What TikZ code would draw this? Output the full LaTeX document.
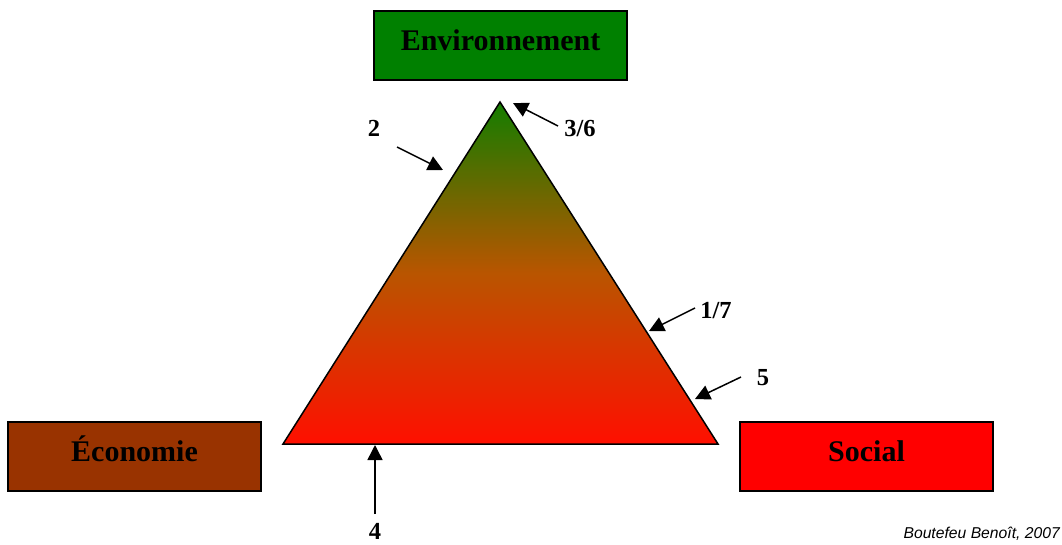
\documentclass[tikz,border=0pt]{standalone}
\usepackage{fontspec}
\setmainfont{Liberation Serif}
\newfontfamily\creditfont{Liberation Sans}
\usetikzlibrary{arrows.meta}
\definecolor{envgreen}{RGB}{0,128,0}
\definecolor{ecobrown}{RGB}{153,51,0}
\definecolor{socred}{RGB}{255,0,0}
\definecolor{tritop}{RGB}{20,125,0}
\definecolor{trimid}{RGB}{185,85,0}
\definecolor{tribot}{RGB}{255,15,0}
\tikzset{
  pillar/.style={draw=black, line width=1.5pt, minimum width=253pt, minimum height=69pt,
    inner sep=0pt, text height=20pt, text depth=10pt,
    font=\fontsize{30}{36}\selectfont\bfseries},
  num/.style={font=\fontsize{24.5}{28}\selectfont\bfseries, inner sep=0pt},
  pointer/.style={line width=1.5pt, -{Triangle[length=15pt,width=15pt]}},
}
\begin{document}
\begin{tikzpicture}[x=1pt,y=-1pt]
\useasboundingbox (0,0) rectangle (1062,544);
% pillars
\node[pillar, fill=envgreen] (env) at (500.5,45.5) {Environnement};
\node[pillar, fill=ecobrown] (eco) at (134.5,456.5) {Économie};
\node[pillar, fill=socred] (soc) at (866.5,456.5) {Social};
% triangle
\coordinate (apex) at (500,102);
\coordinate (bl) at (283,444);
\coordinate (br) at (718,444);
\draw[line width=1.5pt, top color=tritop, bottom color=tribot, middle color=trimid]
  (apex) -- (br) -- (bl) -- cycle;
% labels
\node[num] (l2) at (374,128) {2};
\node[num] (l36) at (580,129) {3/6};
\node[num] (l17) at (716,311) {1/7};
\node[num] (l5) at (763,378) {5};
\node[num] (l4) at (375,531) {4};
% arrow tails and tips
\coordinate (t2) at (397,147);   \coordinate (h2) at (443,170);
\coordinate (t36) at (558,126);  \coordinate (h36) at (513,103);
\coordinate (t17) at (695,308);  \coordinate (h17) at (649,331);
\coordinate (t5) at (741,377);   \coordinate (h5) at (695,399);
\coordinate (t4) at (375,514);   \coordinate (h4) at (375,445);
\draw[pointer] (t2) -- (h2);
\draw[pointer] (t36) -- (h36);
\draw[pointer] (t17) -- (h17);
\draw[pointer] (t5) -- (h5);
\draw[pointer] (t4) -- (h4);
% credit
\node[anchor=base east, inner sep=0pt, font=\creditfont\itshape\fontsize{15.7}{18}\selectfont] (credit) at (1060,538) {Boutefeu Benoît, 2007};
\end{tikzpicture}
\end{document}
